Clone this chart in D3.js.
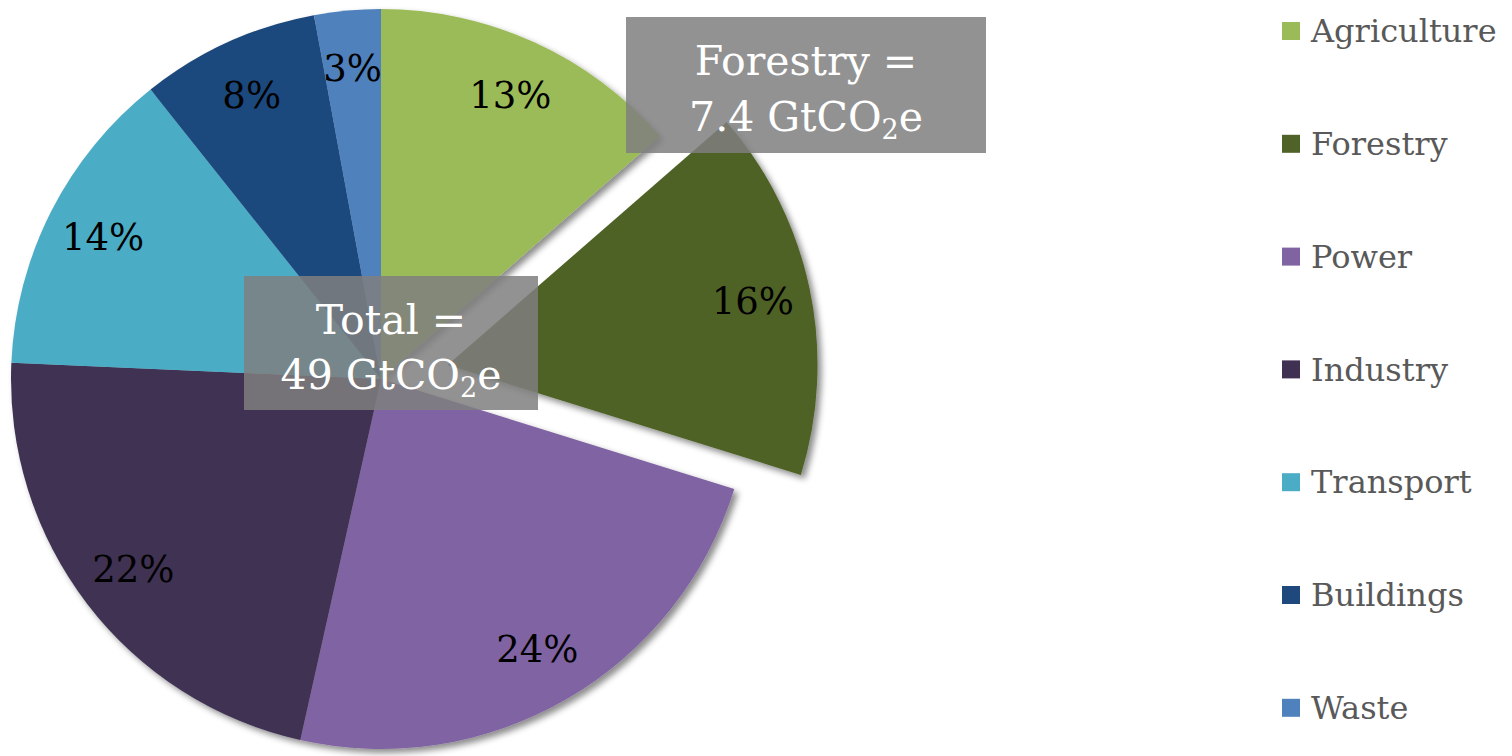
<!DOCTYPE html>
<html>
<head>
<meta charset="utf-8">
<script src="https://cdn.jsdelivr.net/npm/d3@7"></script>
<style>
  body { margin: 0; background: #fff; }
  svg text { font-family: Rockwell, "DejaVu Serif", serif; }
</style>
</head>
<body>
<div id="my_dataviz"></div>
<script>
// sectors, shares and the printed labels
var sectors = ["Agriculture", "Forestry", "Power", "Industry", "Transport", "Buildings", "Waste"];
var shares = [13.6, 16.2, 23.7, 22.2, 13.6, 7.8, 2.9];
var pctLabels = ["13%", "16%", "24%", "22%", "14%", "8%", "3%"];
var colors = ["#9bbb59", "#4f6228", "#8064a2", "#403152", "#4bacc6", "#1f497d", "#4f81bd"];
var exploded = "Forestry";
var forestryNote = ["Forestry =", "7.4 GtCO", "2", "e"];
var totalNote = ["Total =", "49 GtCO", "2", "e"];

var width = 1512, height = 756;
var cx = 381, cy = 379, radius = 370, explodeBy = 68;

var svg = d3.select("#my_dataviz")
    .append("svg")
        .attr("width", width)
        .attr("height", height);

var defs = svg.append("defs");
var shadow = defs.append("filter")
    .attr("id", "shadow")
    .attr("x", "-10%").attr("y", "-10%")
    .attr("width", "130%").attr("height", "130%");
shadow.append("feDropShadow")
    .attr("dx", 4).attr("dy", 4)
    .attr("stdDeviation", 3)
    .attr("flood-color", "#000")
    .attr("flood-opacity", 0.45);

var data = sectors.map(function(s, i) {
    return { name: s, value: shares[i], label: pctLabels[i], color: colors[i] };
});

var pie = d3.pie().sort(null).value(function(d) { return d.value; });
var arc = d3.arc().innerRadius(0).outerRadius(radius);
var labelArc = d3.arc().innerRadius(312).outerRadius(312);
var arcs = pie(data);

function offset(d) {
    if (d.data.name != exploded) return [0, 0];
    var a = (d.startAngle + d.endAngle) / 2;
    return [Math.sin(a) * explodeBy, -Math.cos(a) * explodeBy];
}

var g = svg.append("g")
    .attr("transform", "translate(" + cx + "," + cy + ")");

g.append("g")
    .attr("filter", "url(#shadow)")
    .selectAll("path")
    .data(arcs)
    .enter()
    .append("path")
        .attr("d", arc)
        .attr("fill", function(d) { return d.data.color; })
        .attr("transform", function(d) { return "translate(" + offset(d) + ")"; });

g.selectAll("text.pct")
    .data(arcs)
    .enter()
    .append("text")
        .attr("class", "pct")
        .attr("transform", function(d) {
            var c = labelArc.centroid(d), o = offset(d);
            return "translate(" + (c[0] + o[0]) + "," + (c[1] + o[1]) + ")";
        })
        .attr("text-anchor", "middle")
        .attr("dy", "0.35em")
        .attr("font-size", 37)
        .attr("fill", "#000")
        .text(function(d) { return d.data.label; });

// grey call-out boxes
function callout(x, y, w, h, lines) {
    var box = svg.append("g");
    box.append("rect")
        .attr("x", x).attr("y", y)
        .attr("width", w).attr("height", h)
        .attr("fill", "#7f7f7f")
        .attr("fill-opacity", 0.85);
    var mid = x + w / 2;
    box.append("text")
        .attr("x", mid).attr("y", y + h * 0.43)
        .attr("text-anchor", "middle")
        .attr("font-size", 41)
        .attr("fill", "#fff")
        .text(lines[0]);
    var t = box.append("text")
        .attr("x", mid).attr("y", y + h * 0.84)
        .attr("text-anchor", "middle")
        .attr("font-size", 41)
        .attr("fill", "#fff");
    t.append("tspan").text(lines[1]);
    t.append("tspan").attr("font-size", 27).attr("dy", 8).text(lines[2]);
    t.append("tspan").attr("dy", -8).text(lines[3]);
}
callout(626, 17, 360, 136, forestryNote);
callout(244, 276, 294, 134, totalNote);

// legend
var legend = svg.append("g")
    .attr("transform", "translate(1282,31)");
var item = legend.selectAll("g")
    .data(sectors)
    .enter()
    .append("g")
        .attr("transform", function(d, i) { return "translate(0," + i * 112.8 + ")"; });
item.append("rect")
    .attr("x", 0).attr("y", -9)
    .attr("width", 18).attr("height", 18)
    .attr("fill", function(d, i) { return colors[i]; });
item.append("text")
    .attr("x", 29)
    .attr("dy", "0.35em")
    .attr("font-size", 32)
    .attr("fill", "#595959")
    .text(function(d) { return d; });
</script>
</body>
</html>
